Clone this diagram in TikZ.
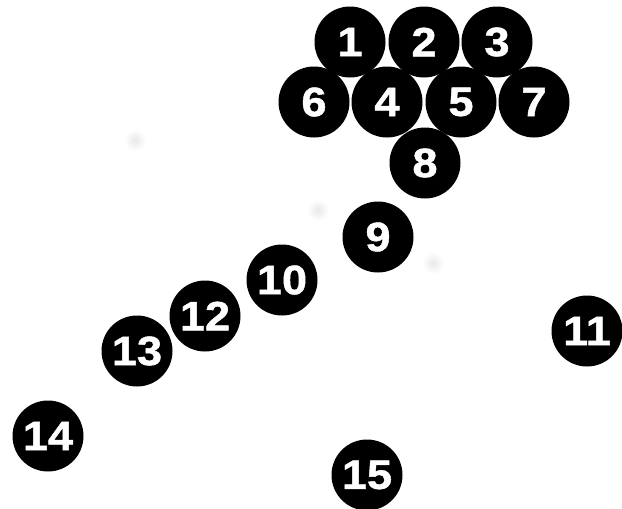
\documentclass[tikz,border=0pt]{standalone}
\usepackage{fontspec}
\newfontfamily\ballfont{Liberation Sans Bold}[FakeBold=1.2,FakeStretch=1.1]
\begin{document}
\begin{tikzpicture}[x=1pt,y=-1pt,
  ball/.style={circle,fill=black,draw=none,minimum size=71pt,inner sep=0pt,
    text=white,font=\ballfont\fontsize{41}{41}\selectfont},
  blob/.style={inner color=black!9,outer color=white}]
\useasboundingbox[fill=white] (0,0) rectangle (622,509);
\shade[blob] (135,140) circle (11);
\shade[blob] (318,210) circle (11);
\shade[blob] (433,263) circle (11);
\node[ball] (n1) at (350,42) {1};
\node[ball] (n2) at (424,42) {2};
\node[ball] (n3) at (497,42) {3};
\node[ball] (n6) at (314,102) {6};
\node[ball] (n4) at (387,102) {4};
\node[ball] (n5) at (461,102) {5};
\node[ball] (n7) at (534,102) {7};
\node[ball] (n8) at (425,163) {8};
\node[ball] (n9) at (378,237) {9};
\node[ball] (n10) at (282,280) {10};
\node[ball] (n11) at (587,331) {11};
\node[ball] (n12) at (205,316) {12};
\node[ball] (n13) at (137,351) {13};
\node[ball] (n14) at (48,436) {14};
\node[ball] (n15) at (367,475) {15};
\end{tikzpicture}
\end{document}
